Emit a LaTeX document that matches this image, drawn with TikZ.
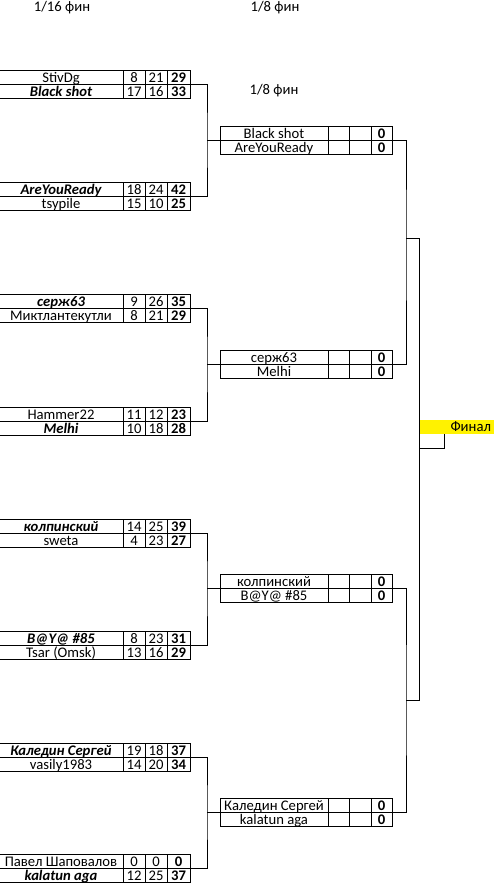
\documentclass[tikz,border=0pt]{standalone}
\usepackage{fontspec}
\setmainfont{Carlito}
\newcommand\bkA[7]{%
  \node[cell, minimum width=93pt, #4] (#1n) at (-1,#2) {#3};
  \node[cell, minimum width=16.5pt] (#1a) at (123,#2) {#5};
  \node[cell, minimum width=16.5pt] (#1b) at (145,#2) {#6};
  \node[cell, minimum width=17.25pt, tot] (#1c) at (167,#2) {#7};}
\newcommand\bkB[3]{%
  \node[cell, minimum width=81pt] (#1n) at (220,#2) {#3};
  \node[cell, minimum width=15.75pt] (#1a) at (328,#2) {};
  \node[cell, minimum width=16.5pt] (#1b) at (349,#2) {};
  \node[cell, minimum width=15.75pt, tot] (#1c) at (371,#2) {0};}
\begin{document}
\begin{tikzpicture}[x=0.75pt,y=-0.75pt,
  cell/.style={draw, line width=0.75pt, inner sep=0pt, outer sep=0pt, anchor=north west,
    minimum height=10.5pt, text height=9.3pt, text depth=1.2pt,
    font=\fontsize{11pt}{13pt}\selectfont},
  win/.style={font=\fontsize{11pt}{13pt}\selectfont\bfseries\itshape},
  tot/.style={font=\fontsize{11pt}{13pt}\selectfont\bfseries},
  lbl/.style={font=\fontsize{11pt}{13pt}\selectfont, inner sep=0pt, outer sep=0pt},
  link/.style={line width=0.75pt}]
\useasboundingbox (0,0) rectangle (493,885);
% headings
\node[lbl, anchor=base] (h1) at (62,11.5) {1/16 фин};
\node[lbl, anchor=base] (h2) at (275,11.5) {1/8 фин};
\node[lbl, anchor=base] (h3) at (274,94) {1/8 фин};
% round 1
\bkA{a1}{70}{StivDg}{}{8}{21}{29}
\bkA{a2}{84}{Black shot}{win}{17}{16}{33}
\bkA{a3}{182}{AreYouReady}{win}{18}{24}{42}
\bkA{a4}{196}{tsypile}{}{15}{10}{25}
\bkA{a5}{294}{серж63}{win}{9}{26}{35}
\bkA{a6}{308}{Миктлантекутли}{}{8}{21}{29}
\bkA{a7}{407}{Hammer22}{}{11}{12}{23}
\bkA{a8}{421}{Melhi}{win}{10}{18}{28}
\bkA{a9}{519}{колпинский}{win}{14}{25}{39}
\bkA{a10}{533}{sweta}{}{4}{23}{27}
\bkA{a11}{631}{B@Y@ \#85}{win}{8}{23}{31}
\bkA{a12}{645}{Tsar (Omsk)}{}{13}{16}{29}
\bkA{a13}{743}{Каледин Сергей}{win}{19}{18}{37}
\bkA{a14}{757}{vasily1983}{}{14}{20}{34}
\bkA{a15}{854}{Павел Шаповалов}{}{0}{0}{0}
\bkA{a16}{868}{kalatun aga}{win}{12}{25}{37}
% round 2
\bkB{b1}{126}{Black shot}
\bkB{b2}{140}{AreYouReady}
\bkB{b3}{350}{серж63}
\bkB{b4}{364}{Melhi}
\bkB{b5}{574}{колпинский}
\bkB{b6}{588}{B@Y@ \#85}
\bkB{b7}{798}{Каледин Сергей}
\bkB{b8}{812}{kalatun aga}
% final
\node[fill=yellow, inner sep=0pt, outer sep=0pt, anchor=north west,
  minimum width=60pt, minimum height=10.5pt] (fin) at (419.5,420) {};
\node[lbl, anchor=base east] (fintext) at (491,431.5) {Финал};
% round 1 connectors
\coordinate (j1) at (207,140);
\coordinate (j2) at (207,364);
\coordinate (j3) at (207,588);
\coordinate (j4) at (207,812);
\draw[link] (a1c.south east) -| (j1) |- (a3c.south east);
\draw[link] (j1) -- (b1n.south west);
\draw[link] (a5c.south east) -| (j2) |- (a7c.south east);
\draw[link] (j2) -- (b3n.south west);
\draw[link] (a9c.south east) -| (j3) |- (a11c.south east);
\draw[link] (j3) -- (b5n.south west);
\draw[link] (a13c.south east) -| (j4) |- (a15c.south east);
\draw[link] (j4) -- (b7n.south west);
% round 2 connectors
\coordinate (k1) at (406,238);
\coordinate (k2) at (406,700);
\coordinate (f1) at (419,238);
\coordinate (f2) at (419,700);
\draw[link] (b1c.south east) -| (k1) |- (b3c.south east);
\draw[link] (b5c.south east) -| (k2) |- (b7c.south east);
\draw[link] (k1) -- (f1) -- (f2) -- (k2);
% final bracket
\coordinate (fb1) at (444,434);
\coordinate (fb2) at (419,448);
\draw[link] (fb1) |- (fb2);
\end{tikzpicture}
\end{document}
